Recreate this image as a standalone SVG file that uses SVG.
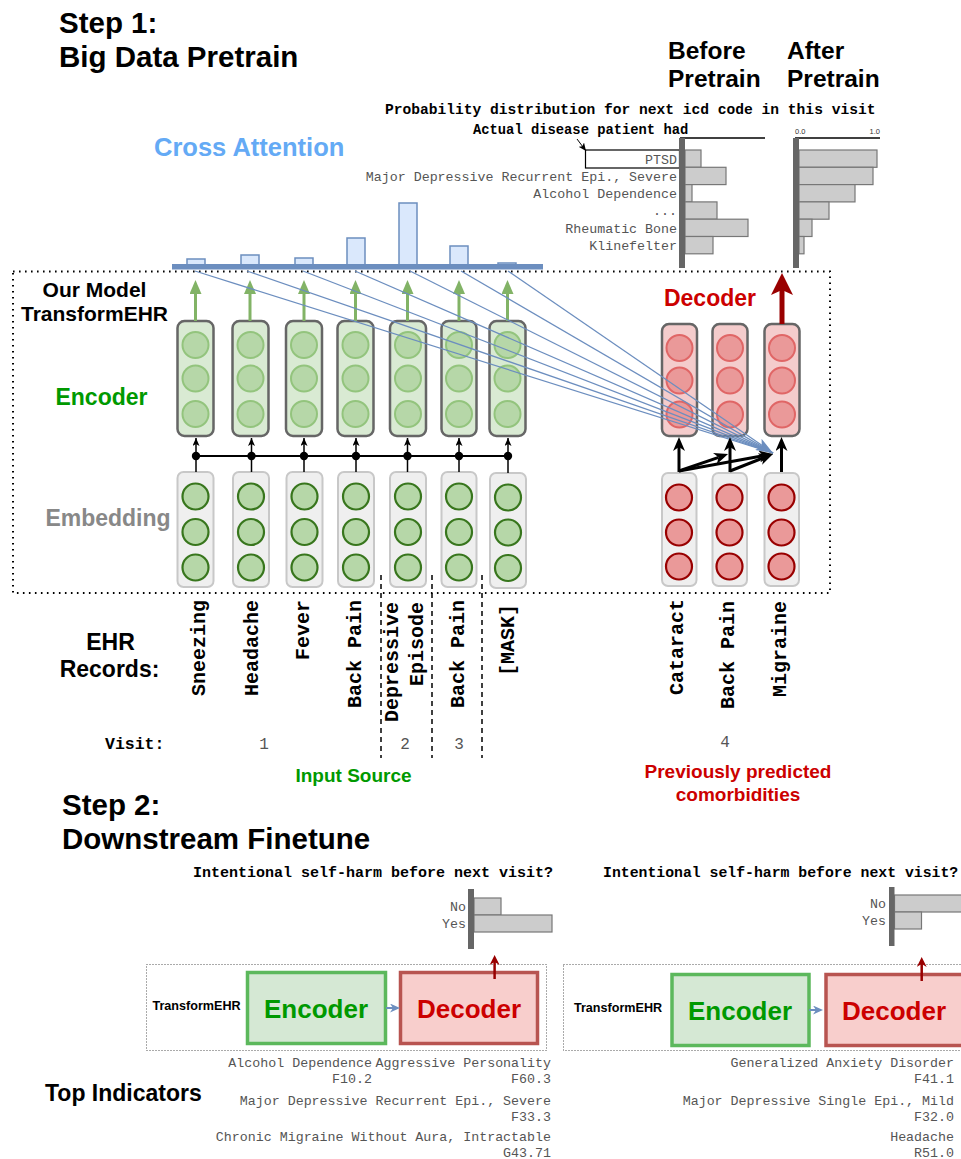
<svg xmlns="http://www.w3.org/2000/svg" width="961" height="1159" viewBox="0 0 961 1159">
<defs>
<style>
.title{font-family:"Liberation Sans",Arial,sans-serif;font-weight:bold;font-size:29.5px;fill:#000}
.sb{font-family:"Liberation Sans",Arial,sans-serif;font-weight:bold}
.lbl{font-family:"Liberation Mono","Courier New",monospace;font-size:13.3px;fill:#555}
.mb{font-family:"Liberation Mono","Courier New",monospace;font-weight:bold;fill:#000}
.rot{font-family:"Liberation Mono","Courier New",monospace;font-weight:bold;font-size:20px;fill:#000;text-anchor:end}
.dig{font-family:"Liberation Mono","Courier New",monospace;font-size:16px;fill:#555;text-anchor:middle}
.encbox{fill:#d9ead3;stroke:#666;stroke-width:2.5}
.encc{fill:#b6d7a8;stroke:#93c47d;stroke-width:2}
.embbox{fill:#efefef;stroke:#c8c8c8;stroke-width:2}
.embc{fill:#b6d7a8;stroke:#38761d;stroke-width:2.2}
.decbox{fill:#f4cccc;stroke:#666;stroke-width:2.5}
.decc{fill:#ea9999;stroke:#e06666;stroke-width:2}
.dembc{fill:#ea9999;stroke:#990000;stroke-width:2.2}
.bar{fill:#cccccc;stroke:#777;stroke-width:1.2}
.attn{fill:#dae8fc;stroke:#6c8ebf;stroke-width:1.5}
.axis{fill:#666}
.ga{stroke:#82b366;stroke-width:3;fill:none;marker-end:url(#mg)}
.ka{stroke:#000;stroke-width:1.5;fill:none;marker-end:url(#mks)}
.kl{stroke:#000;stroke-width:3;fill:none;marker-end:url(#mkl)}
.bl{stroke:#6c8ebf;stroke-width:1.3;fill:none}
.dash{stroke:#000;stroke-width:1.5;stroke-dasharray:5 4;fill:none}
.dotbox{fill:none;stroke:#555;stroke-width:1;stroke-dasharray:1 2}
.enc2{fill:#d5e8d4;stroke:#5cb85c;stroke-width:3.5}
.dec2{fill:#f8cecc;stroke:#b85450;stroke-width:3.5}
</style>
<marker id="mg" viewBox="0 0 14 12" refX="2" refY="6" markerWidth="14" markerHeight="12" markerUnits="userSpaceOnUse" orient="auto"><path d="M0,0 L14,6 L0,12 z" fill="#82b366"/></marker>
<marker id="mr" viewBox="0 0 22 22" refX="6" refY="11" markerWidth="22" markerHeight="22" markerUnits="userSpaceOnUse" orient="auto"><path d="M0,0 L22,11 L0,22 L5,11 z" fill="#990000"/></marker>
<marker id="mks" viewBox="0 0 8 7" refX="8" refY="3.5" markerWidth="8" markerHeight="7" markerUnits="userSpaceOnUse" orient="auto"><path d="M0,0 L8,3.5 L0,7 L2,3.5 z" fill="#000"/></marker>
<marker id="mkl" viewBox="0 0 14 12" refX="4" refY="6" markerWidth="14" markerHeight="12" markerUnits="userSpaceOnUse" orient="auto"><path d="M0,0 L14,6 L0,12 L4,6 z" fill="#000"/></marker>
<marker id="mb" viewBox="0 0 17 13" refX="17" refY="6.5" markerWidth="17" markerHeight="13" markerUnits="userSpaceOnUse" orient="auto"><path d="M0,0 L17,6.5 L0,13 L4,6.5 z" fill="#6c8ebf"/></marker>
<marker id="mbs" viewBox="0 0 10 9" refX="3" refY="4.5" markerWidth="10" markerHeight="9" markerUnits="userSpaceOnUse" orient="auto"><path d="M0,0 L10,4.5 L0,9 L3,4.5 z" fill="#6c8ebf"/></marker>
<marker id="mrs" viewBox="0 0 10 10" refX="3" refY="5" markerWidth="10" markerHeight="10" markerUnits="userSpaceOnUse" orient="auto"><path d="M0,0 L10,5 L0,10 L3,5 z" fill="#990000"/></marker>
</defs>
<rect width="961" height="1159" fill="#fff"/>

<!-- Titles -->
<g id="titles">
<text class="title" x="59" y="33">Step 1:</text>
<text class="title" x="59" y="67">Big Data Pretrain</text>
<text class="title" x="62" y="815">Step 2:</text>
<text class="title" x="62" y="849">Downstream Finetune</text>
<text class="sb" font-size="24.5" x="668" y="59">Before</text>
<text class="sb" font-size="24.5" x="668" y="87">Pretrain</text>
<text class="sb" font-size="24.5" x="787" y="59">After</text>
<text class="sb" font-size="24.5" x="787" y="87">Pretrain</text>
</g>

<!-- Probability chart -->
<g id="prob-chart">
<text class="mb" font-size="14.6" x="385" y="114">Probability distribution for next icd code in this visit</text>
<text class="mb" font-size="13.8" x="473" y="134">Actual disease patient had</text>
<line x1="680" y1="138" x2="765" y2="138" stroke="#000" stroke-width="1.5"/>
<line x1="795" y1="138" x2="880" y2="138" stroke="#000" stroke-width="1.5"/>
<text font-family="Liberation Sans,Arial,sans-serif" font-size="7.5" fill="#333" x="795" y="134">0.0</text>
<text font-family="Liberation Sans,Arial,sans-serif" font-size="7.5" fill="#333" x="880" y="134" text-anchor="end">1.0</text>
<rect x="585.5" y="150" width="94" height="18" fill="none" stroke="#000" stroke-width="1.2"/>
<g text-anchor="end">
<text class="lbl" x="677" y="163.5">PTSD</text>
<text class="lbl" x="677" y="180.8">Major Depressive Recurrent Epi., Severe</text>
<text class="lbl" x="677" y="198.1">Alcohol Dependence</text>
<text class="lbl" x="677" y="215.4">...</text>
<text class="lbl" x="677" y="232.7">Rheumatic Bone</text>
<text class="lbl" x="677" y="250">Klinefelter</text>
</g>
<rect class="bar" x="685" y="150" width="16" height="17.3"/>
<rect class="bar" x="685" y="167.3" width="41" height="17.3"/>
<rect class="bar" x="685" y="184.6" width="7" height="17.3"/>
<rect class="bar" x="685" y="201.9" width="32" height="17.3"/>
<rect class="bar" x="685" y="219.2" width="63" height="17.3"/>
<rect class="bar" x="685" y="236.5" width="28" height="17.3"/>
<rect class="axis" x="679" y="138" width="6" height="130"/>
<rect class="bar" x="799" y="150" width="78" height="17.3"/>
<rect class="bar" x="799" y="167.3" width="74" height="17.3"/>
<rect class="bar" x="799" y="184.6" width="56" height="17.3"/>
<rect class="bar" x="799" y="201.9" width="30" height="17.3"/>
<rect class="bar" x="799" y="219.2" width="13" height="17.3"/>
<rect class="bar" x="799" y="236.5" width="5" height="17.3"/>
<rect class="axis" x="793" y="138" width="6" height="130"/>
</g>

<!-- Cross attention -->
<g id="cross-attention">
<text class="sb" font-size="25.5" fill="#64aaf5" x="154" y="156">Cross Attention</text>
<rect class="attn" x="187" y="259" width="18" height="6"/>
<rect class="attn" x="241" y="255" width="18" height="10"/>
<rect class="attn" x="295" y="258" width="18" height="7"/>
<rect class="attn" x="347" y="238" width="18" height="27"/>
<rect class="attn" x="399" y="203" width="18" height="62"/>
<rect class="attn" x="450" y="246" width="18" height="19"/>
<rect class="attn" x="498" y="263" width="18" height="2"/>
</g>

<!-- Model frame and labels -->
<g id="model-frame">
<rect x="13" y="271.5" width="817" height="321.5" fill="none" stroke="#000" stroke-width="2" stroke-dasharray="1.6 4.4"/>
<rect x="172" y="264" width="371" height="5.5" fill="#6c8ebf"/>
<text class="sb" font-size="21" x="94.5" y="297" text-anchor="middle">Our Model</text>
<text class="sb" font-size="21" x="94.5" y="321" text-anchor="middle">TransformEHR</text>
<text class="sb" font-size="23" fill="#009900" x="101.5" y="405" text-anchor="middle">Encoder</text>
<text class="sb" font-size="23" fill="#888" x="108" y="526" text-anchor="middle">Embedding</text>
<text class="sb" font-size="23" fill="#cc0000" x="710" y="306" text-anchor="middle">Decoder</text>
</g>

<!-- Encoder columns -->
<g id="encoder-1"><rect class="encbox" x="177.5" y="321" width="36" height="115" rx="7"/><circle class="encc" cx="195.5" cy="345" r="13"/><circle class="encc" cx="195.5" cy="378.5" r="13"/><circle class="encc" cx="195.5" cy="414" r="13"/></g>
<g id="encoder-2"><rect class="encbox" x="232.5" y="321" width="36" height="115" rx="7"/><circle class="encc" cx="250.5" cy="345" r="13"/><circle class="encc" cx="250.5" cy="378.5" r="13"/><circle class="encc" cx="250.5" cy="414" r="13"/></g>
<g id="encoder-3"><rect class="encbox" x="286" y="321" width="36" height="115" rx="7"/><circle class="encc" cx="304" cy="345" r="13"/><circle class="encc" cx="304" cy="378.5" r="13"/><circle class="encc" cx="304" cy="414" r="13"/></g>
<g id="encoder-4"><rect class="encbox" x="337.5" y="321" width="36" height="115" rx="7"/><circle class="encc" cx="355.5" cy="345" r="13"/><circle class="encc" cx="355.5" cy="378.5" r="13"/><circle class="encc" cx="355.5" cy="414" r="13"/></g>
<g id="encoder-5"><rect class="encbox" x="390" y="321" width="36" height="115" rx="7"/><circle class="encc" cx="408" cy="345" r="13"/><circle class="encc" cx="408" cy="378.5" r="13"/><circle class="encc" cx="408" cy="414" r="13"/></g>
<g id="encoder-6"><rect class="encbox" x="441.5" y="321" width="35" height="115" rx="7"/><circle class="encc" cx="459" cy="345" r="13"/><circle class="encc" cx="459" cy="378.5" r="13"/><circle class="encc" cx="459" cy="414" r="13"/></g>
<g id="encoder-7"><rect class="encbox" x="489.5" y="321" width="36" height="115" rx="7"/><circle class="encc" cx="507.5" cy="345" r="13"/><circle class="encc" cx="507.5" cy="378.5" r="13"/><circle class="encc" cx="507.5" cy="414" r="13"/></g>

<!-- Embedding columns -->
<g id="embedding-1"><rect class="embbox" x="177.5" y="472" width="36" height="115" rx="6"/><circle class="embc" cx="195.5" cy="496.5" r="13"/><circle class="embc" cx="195.5" cy="532" r="13"/><circle class="embc" cx="195.5" cy="567.5" r="13"/></g>
<g id="embedding-2"><rect class="embbox" x="233" y="472" width="36" height="115" rx="6"/><circle class="embc" cx="251" cy="496.5" r="13"/><circle class="embc" cx="251" cy="532" r="13"/><circle class="embc" cx="251" cy="567.5" r="13"/></g>
<g id="embedding-3"><rect class="embbox" x="286.5" y="472" width="36" height="115" rx="6"/><circle class="embc" cx="304.5" cy="496.5" r="13"/><circle class="embc" cx="304.5" cy="532" r="13"/><circle class="embc" cx="304.5" cy="567.5" r="13"/></g>
<g id="embedding-4"><rect class="embbox" x="338" y="472" width="36" height="115" rx="6"/><circle class="embc" cx="356" cy="496.5" r="13"/><circle class="embc" cx="356" cy="532" r="13"/><circle class="embc" cx="356" cy="567.5" r="13"/></g>
<g id="embedding-5"><rect class="embbox" x="390" y="472" width="36" height="115" rx="6"/><circle class="embc" cx="408" cy="496.5" r="13"/><circle class="embc" cx="408" cy="532" r="13"/><circle class="embc" cx="408" cy="567.5" r="13"/></g>
<g id="embedding-6"><rect class="embbox" x="441.5" y="472" width="35" height="115" rx="6"/><circle class="embc" cx="459" cy="496.5" r="13"/><circle class="embc" cx="459" cy="532" r="13"/><circle class="embc" cx="459" cy="567.5" r="13"/></g>
<g id="embedding-7"><rect class="embbox" x="490" y="473" width="36" height="115" rx="6"/><circle class="embc" cx="508" cy="497.5" r="13"/><circle class="embc" cx="508" cy="532.5" r="13"/><circle class="embc" cx="508" cy="568" r="13"/></g>

<!-- Decoder columns -->
<g id="decoder-1"><rect class="decbox" x="662" y="324" width="35" height="112" rx="7"/><circle class="decc" cx="679.5" cy="348" r="13"/><circle class="decc" cx="679.5" cy="380.5" r="13"/><circle class="decc" cx="679.5" cy="414.5" r="13"/></g>
<g id="decoder-2"><rect class="decbox" x="712.5" y="324" width="35" height="112" rx="7"/><circle class="decc" cx="730" cy="348" r="13"/><circle class="decc" cx="730" cy="380.5" r="13"/><circle class="decc" cx="730" cy="414.5" r="13"/></g>
<g id="decoder-3"><rect class="decbox" x="764.5" y="324" width="35" height="112" rx="7"/><circle class="decc" cx="782" cy="348" r="13"/><circle class="decc" cx="782" cy="380.5" r="13"/><circle class="decc" cx="782" cy="414.5" r="13"/></g>
<g id="dec-embedding-1"><rect class="embbox" x="662" y="473" width="34.5" height="113" rx="6"/><circle class="dembc" cx="679" cy="497.5" r="13"/><circle class="dembc" cx="679" cy="532.5" r="13"/><circle class="dembc" cx="679" cy="566.5" r="13"/></g>
<g id="dec-embedding-2"><rect class="embbox" x="712.5" y="473" width="34.5" height="113" rx="6"/><circle class="dembc" cx="729.5" cy="497.5" r="13"/><circle class="dembc" cx="729.5" cy="532.5" r="13"/><circle class="dembc" cx="729.5" cy="566.5" r="13"/></g>
<g id="dec-embedding-3"><rect class="embbox" x="764.5" y="473" width="34.5" height="113" rx="6"/><circle class="dembc" cx="781.5" cy="497.5" r="13"/><circle class="dembc" cx="781.5" cy="532.5" r="13"/><circle class="dembc" cx="781.5" cy="566.5" r="13"/></g>

<!-- Connectors -->
<g id="connectors">
<line class="ga" x1="195.5" y1="321" x2="195.5" y2="292"/>
<line class="ga" x1="250" y1="321" x2="250" y2="292"/>
<line class="ga" x1="304" y1="321" x2="304" y2="292"/>
<line class="ga" x1="355.5" y1="321" x2="355.5" y2="292"/>
<line class="ga" x1="407.5" y1="321" x2="407.5" y2="292"/>
<line class="ga" x1="459" y1="321" x2="459" y2="292"/>
<line class="ga" x1="507.5" y1="321" x2="507.5" y2="292"/>
<line x1="196" y1="456" x2="508" y2="456" stroke="#000" stroke-width="1.8"/>
<g fill="#000">
<circle cx="196" cy="456" r="4.2"/><circle cx="251.5" cy="456" r="4.2"/><circle cx="304" cy="456" r="4.2"/><circle cx="356" cy="456" r="4.2"/><circle cx="407.5" cy="456" r="4.2"/><circle cx="459" cy="456" r="4.2"/><circle cx="508" cy="456" r="4.2"/>
</g>
<line class="ka" x1="196" y1="472" x2="196" y2="438"/>
<line class="ka" x1="251.5" y1="472" x2="251.5" y2="438"/>
<line class="ka" x1="304" y1="472" x2="304" y2="438"/>
<line class="ka" x1="356" y1="472" x2="356" y2="438"/>
<line class="ka" x1="407.5" y1="472" x2="407.5" y2="438"/>
<line class="ka" x1="459" y1="472" x2="459" y2="438"/>
<line class="ka" x1="508" y1="473" x2="508" y2="438"/>
<line class="bl" x1="195" y1="271" x2="773" y2="453"/>
<line class="bl" x1="247" y1="271" x2="773" y2="453"/>
<line class="bl" x1="303" y1="271" x2="773" y2="453"/>
<line class="bl" x1="355" y1="271" x2="773" y2="453"/>
<line class="bl" x1="410" y1="271" x2="773" y2="453"/>
<line class="bl" x1="461" y1="271" x2="773" y2="453" marker-end="url(#mb)"/>
<line class="bl" x1="508" y1="271" x2="773" y2="453"/>
<line class="kl" x1="679" y1="472" x2="679" y2="447"/>
<line class="kl" x1="730" y1="472" x2="730" y2="447"/>
<line class="kl" x1="781.5" y1="472" x2="781.5" y2="447"/>
<line class="kl" x1="679" y1="471" x2="718.6" y2="457.3"/>
<line class="kl" x1="679" y1="471" x2="763.2" y2="455.8"/>
<line class="kl" x1="730" y1="471" x2="763.7" y2="457.7"/>
<line x1="782" y1="324" x2="782" y2="289" stroke="#990000" stroke-width="5" marker-end="url(#mr)"/>
<line x1="577" y1="139" x2="586" y2="151" stroke="#000" stroke-width="1" marker-end="url(#mks)"/>
<line class="dash" x1="381" y1="575" x2="381" y2="758"/>
<line class="dash" x1="432" y1="575" x2="432" y2="758"/>
<line class="dash" x1="482" y1="575" x2="482" y2="758"/>
</g>

<!-- EHR records -->
<g id="ehr-records">
<text class="sb" font-size="23" x="110.5" y="650" text-anchor="middle">EHR</text>
<text class="sb" font-size="23" x="109.5" y="677" text-anchor="middle">Records:</text>
<text class="rot" transform="translate(205,600) rotate(-90)">Sneezing</text>
<text class="rot" transform="translate(258,600) rotate(-90)">Headache</text>
<text class="rot" transform="translate(309,600) rotate(-90)">Fever</text>
<text class="rot" transform="translate(361,600) rotate(-90)">Back Pain</text>
<text class="rot" transform="translate(398,602) rotate(-90)">Depressive</text>
<text class="rot" transform="translate(423,602) rotate(-90)">Episode</text>
<text class="rot" transform="translate(464,600) rotate(-90)">Back Pain</text>
<text class="rot" transform="translate(514,604) rotate(-90)">[MASK]</text>
<text class="rot" transform="translate(683,599) rotate(-90)">Cataract</text>
<text class="rot" transform="translate(734,601) rotate(-90)">Back Pain</text>
<text class="rot" transform="translate(786,601) rotate(-90)">Migraine</text>
<text class="mb" font-size="16.5" x="105" y="749">Visit:</text>
<text class="dig" x="264" y="749">1</text>
<text class="dig" x="405" y="749">2</text>
<text class="dig" x="459" y="749">3</text>
<text class="dig" x="725" y="747">4</text>
<text class="sb" font-size="19" fill="#009900" x="353.5" y="782" text-anchor="middle">Input Source</text>
<text class="sb" font-size="19" fill="#cc0000" x="738" y="778" text-anchor="middle">Previously predicted</text>
<text class="sb" font-size="19" fill="#cc0000" x="738" y="801" text-anchor="middle">comorbidities</text>
</g>

<!-- Step 2 left panel -->
<g id="finetune-left">
<text class="mb" font-size="15" x="193" y="877">Intentional self-harm before next visit?</text>
<rect class="bar" x="474" y="898" width="27" height="17"/>
<rect class="bar" x="474" y="915" width="78" height="17"/>
<rect class="axis" x="468" y="889" width="6" height="60"/>
<text class="lbl" x="466" y="911" text-anchor="end">No</text>
<text class="lbl" x="466" y="928" text-anchor="end">Yes</text>
<rect class="dotbox" x="146.5" y="964.5" width="400" height="86"/>
<text class="sb" font-size="12.6" x="196.5" y="1010" text-anchor="middle">TransformEHR</text>
<rect class="enc2" x="247.5" y="972.5" width="138" height="71"/>
<text class="sb" font-size="26" fill="#009900" x="316" y="1017.5" text-anchor="middle">Encoder</text>
<rect class="dec2" x="400.5" y="972.5" width="137" height="71"/>
<text class="sb" font-size="26" fill="#cc0000" x="469" y="1017.5" text-anchor="middle">Decoder</text>
<line x1="386" y1="1008" x2="393" y2="1008" stroke="#6c8ebf" stroke-width="2" marker-end="url(#mbs)"/>
<line x1="494.6" y1="979" x2="494.6" y2="962" stroke="#990000" stroke-width="2.5" marker-end="url(#mrs)"/>
<g text-anchor="end">
<text class="lbl" x="372" y="1066.5">Alcohol Dependence</text>
<text class="lbl" x="372" y="1082.5">F10.2</text>
<text class="lbl" x="551" y="1066.5">Aggressive Personality</text>
<text class="lbl" x="551" y="1082.5">F60.3</text>
<text class="lbl" x="551" y="1105">Major Depressive Recurrent Epi., Severe</text>
<text class="lbl" x="551" y="1121">F33.3</text>
<text class="lbl" x="551" y="1141">Chronic Migraine Without Aura, Intractable</text>
<text class="lbl" x="551" y="1156.5">G43.71</text>
</g>
<text class="sb" font-size="23" x="45" y="1101">Top Indicators</text>
</g>

<!-- Step 2 right panel -->
<g id="finetune-right">
<text class="mb" font-size="14.8" x="603" y="877">Intentional self-harm before next visit?</text>
<rect class="bar" x="894.5" y="895" width="80" height="17"/>
<rect class="bar" x="894.5" y="912" width="27" height="17"/>
<rect class="axis" x="889" y="887" width="5.5" height="59"/>
<text class="lbl" x="886" y="908" text-anchor="end">No</text>
<text class="lbl" x="886" y="925" text-anchor="end">Yes</text>
<rect class="dotbox" x="563.5" y="964.5" width="410" height="86"/>
<text class="sb" font-size="12.6" x="618" y="1012" text-anchor="middle">TransformEHR</text>
<rect class="enc2" x="672" y="974.5" width="137" height="71"/>
<text class="sb" font-size="26" fill="#009900" x="740" y="1019.5" text-anchor="middle">Encoder</text>
<rect class="dec2" x="826" y="974.5" width="140" height="71"/>
<text class="sb" font-size="26" fill="#cc0000" x="894" y="1019.5" text-anchor="middle">Decoder</text>
<line x1="809" y1="1010" x2="816" y2="1010" stroke="#6c8ebf" stroke-width="2" marker-end="url(#mbs)"/>
<line x1="921.7" y1="981" x2="921.7" y2="964" stroke="#990000" stroke-width="2.5" marker-end="url(#mrs)"/>
<g text-anchor="end">
<text class="lbl" x="954" y="1066.5">Generalized Anxiety Disorder</text>
<text class="lbl" x="954" y="1082.5">F41.1</text>
<text class="lbl" x="954" y="1105">Major Depressive Single Epi., Mild</text>
<text class="lbl" x="954" y="1121">F32.0</text>
<text class="lbl" x="954" y="1141">Headache</text>
<text class="lbl" x="954" y="1156.5">R51.0</text>
</g>
</g>
</svg>
